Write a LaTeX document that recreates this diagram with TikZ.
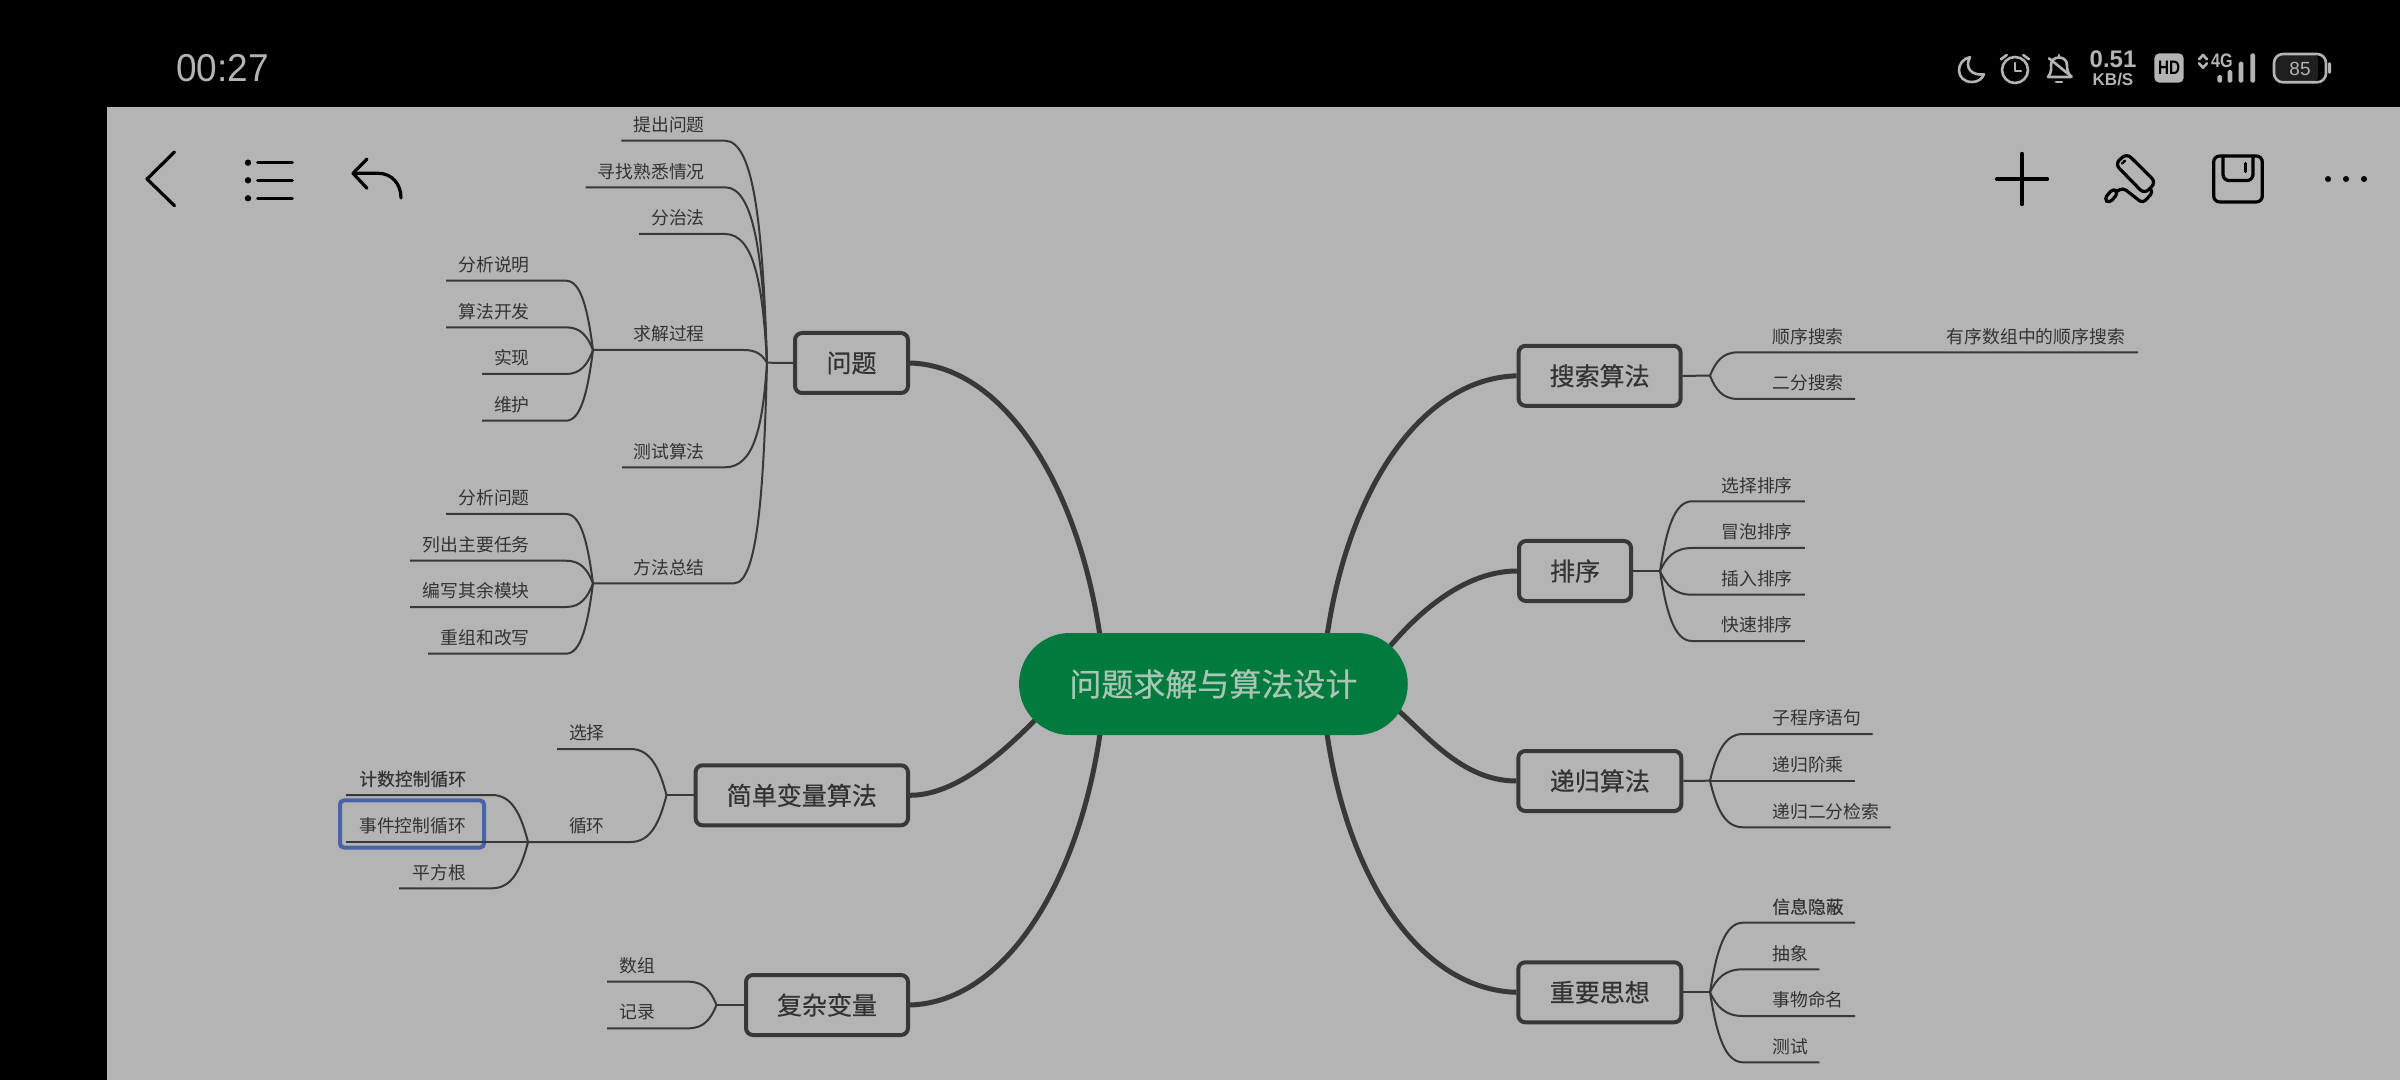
\documentclass[tikz,border=0pt]{standalone}
\usepackage{fontspec}
\usepackage{graphicx}
\setmainfont{Liberation Sans}
\newfontfamily\cjk{Noto Sans CJK SC}
\newfontfamily\cjkm[FakeBold=0.5]{Noto Sans CJK SC}
\newfontfamily\cjks[FakeBold=0.25]{Noto Sans CJK SC}
\definecolor{panel}{HTML}{B4B4B4}
\definecolor{ink}{HTML}{383838}
\definecolor{txt}{HTML}{333333}
\definecolor{rootgreen}{HTML}{007A3D}
\definecolor{roottext}{HTML}{A9C6B5}
\definecolor{selblue}{HTML}{4A62A8}
\tikzset{
  twigline/.style={draw=ink,line width=1pt},
  lab/.style={inner sep=0pt,text=txt,font=\cjk\fontsize{8.9}{10}\selectfont},
  topic/.style={draw=ink,line width=2pt,rounded corners=3.5pt,inner sep=0pt,minimum height=30pt,text=txt,font=\cjkm\fontsize{12.5}{14}\selectfont},
  mainline/.style={draw=ink,line width=2.5pt},
  rootnode/.style={fill=rootgreen,rounded corners=25.5pt,inner sep=0pt,minimum width=194.35pt,minimum height=51pt,text=roottext,font=\cjkm\fontsize{16}{18}\selectfont},
  selbox/.style={draw=selblue,line width=2pt,rounded corners=2pt,minimum width=72pt,minimum height=23.6pt,inner sep=0pt},
  tool/.style={draw=black,line width=1.6pt,line cap=round,line join=round},
  stat/.style={draw=panel,line width=1.3pt,line cap=round,line join=round},
  stattext/.style={inner sep=0pt,text=panel}
}
\newcommand{\setj}[5]{\def\jn{#1}\def\jx{#2}\def\jy{#3}\def\sd{#4}\def\ta{#5}}
\newcommand{\twig}[6][\cjk]{%
  \pgfmathsetmacro\dyy{#4-\jy}%
  \pgfmathsetmacro\kA{abs(\dyy)>100?0.1:0.2}%
  \pgfmathsetmacro\kB{abs(\dyy)>100?0.3:0.45}%
  \pgfmathsetmacro\cAx{\jx+\kA*\sd}%
  \pgfmathsetmacro\cAy{\jy+0.6*\dyy}%
  \pgfmathsetmacro\cBx{\jx+\kB*\sd}%
  \pgfmathsetmacro\pX{\jx+\sd}%
  \pgfmathsetmacro\ty{#4-16}%
  \coordinate (#2-end) at (#3,#4);
  \draw[twigline] (\jn) .. controls (\cAx,\cAy) and (\cBx,#4) .. (\pX,#4) -- (#2-end);
  \node[lab,anchor=\ta,font=#1\fontsize{8.9}{10}\selectfont] (#2) at (#5,\ty) {#6};
}
\begin{document}
\begin{tikzpicture}[x=0.5pt,y=-0.5pt]
\useasboundingbox (0,0) rectangle (2400,1080);
\fill[black] (0,0) rectangle (2400,1080);
\fill[panel] (107,107) rectangle (2400,1080);

% status bar
\node[stattext,font=\fontsize{18.5}{20}\selectfont] (clock) at (222.5,68.5) {\scalebox{1}[1.05]{00:27}};
\draw[stat] (1970,57.3) .. controls (1955,60) and (1955,82) .. (1972,82) .. controls (1978,82) and (1982,79) .. (1984,74.3) .. controls (1972,76) and (1964,68) .. (1970,57.3);
\draw[stat] (2015,70) circle [radius=6.5pt];
\draw[stat] (2015,63) -- (2015,71) -- (2021,71);
\draw[stat] (2001,59.3) -- (2006.7,55);
\draw[stat] (2023.3,55) -- (2029,59.3);
\draw[stat] (2048,77) .. controls (2052,72) and (2051,68) .. (2051,65) .. controls (2051,55) and (2067,55) .. (2067,65) .. controls (2067,68) and (2067,72) .. (2071,77) -- cycle;
\draw[stat] (2059,55) -- (2059,57);
\draw[stat] (2056,82) -- (2062,82);
\draw[stat] (2049,58.3) -- (2071.7,76.7);
\node[stattext,font=\bfseries\fontsize{12}{13}\selectfont] (speed) at (2113,59) {0.51};
\node[stattext,font=\bfseries\fontsize{8.5}{10}\selectfont] (unit) at (2113,80) {KB/S};
\node[fill=panel,rounded corners=2.5pt,inner sep=0pt,minimum width=14.7pt,minimum height=14.7pt,text=black,font=\bfseries\fontsize{9.75}{10}\selectfont] (hd) at (2169,68) {\scalebox{0.78}[1]{HD}};
\draw[stat] (2199,59.3) -- (2203,55) -- (2207,59.3);
\draw[stat] (2199,63.3) -- (2203,67.7) -- (2207,63.3);
\node[stattext,font=\bfseries\fontsize{9.75}{10}\selectfont] (net) at (2222,60.7) {\scalebox{0.83}[1]{4G}};
\fill[panel,rounded corners=0.8pt] (2217.4,75) rectangle (2222,82.7);
\fill[panel,rounded corners=0.8pt] (2227.7,70) rectangle (2232.3,82.7);
\fill[panel,rounded corners=0.8pt] (2238.7,61.7) rectangle (2243.3,82.7);
\fill[panel,rounded corners=0.8pt] (2250.4,53.3) rectangle (2255,82.7);
\fill[black!88!white,rounded corners=3pt] (2274,54) rectangle (2318,82);
\draw[stat,rounded corners=4.5pt] (2274,54) rectangle (2326,82.3);
\fill[panel,rounded corners=0.8pt] (2328,62) rectangle (2331,74);
\node[stattext,font=\fontsize{9.5}{11}\selectfont] (batt) at (2300,68.5) {85};

% toolbar
\draw[tool] (174.5,152) -- (147,179) -- (174.5,205.7);
\fill (248,162.7) circle [radius=1.6pt];
\fill (248,180.3) circle [radius=1.6pt];
\fill (248,198.3) circle [radius=1.6pt];
\draw[tool] (257.7,162.7) -- (292.3,162.7);
\draw[tool] (257.7,180.3) -- (292.3,180.3);
\draw[tool] (257.7,198.3) -- (292.3,198.3);
\draw[tool] (367,159) -- (353,173.3) -- (367,188.3);
\draw[tool] (353,173.3) -- (378,173.3) .. controls (392,173.3) and (401,184) .. (401,198);
\draw[tool] (1996.5,179) -- (2047.5,179);
\draw[tool] (2022,153.5) -- (2022,204.5);
\draw[tool,rounded corners=3pt] (2126.7,153.3) -- (2156,182.3) -- (2144.3,194) -- (2115,164) -- cycle;
\draw[tool,line width=1.2pt] (2122,163.5) -- (2125,160.7);
\draw[tool,rounded corners=2pt] (2150,188.3) -- (2153.3,191.7) -- (2142.7,203.3) -- (2130,193.3) -- (2122.7,187.7) -- (2116,192);
\draw[tool,rounded corners=2pt] (2113.3,188.3) -- (2118.3,192.7) -- (2109.3,203.3) -- (2104,199) -- cycle;
\draw[tool,rounded corners=3pt] (2213.7,156) rectangle (2262.3,202);
\draw[tool,rounded corners=3pt] (2223,156) -- (2223,180.5) -- (2253,180.5) -- (2253,156);
\draw[tool,line width=1.4pt] (2245.7,163.3) -- (2245.7,171.7);
\fill (2328,179) circle [radius=1.5pt];
\fill (2346,179) circle [radius=1.5pt];
\fill (2364,179) circle [radius=1.5pt];

% selection frame
\node[selbox] (sel) at (412,824) {};

% hidden ends of the main connectors
\coordinate (rq) at (1103,660);
\coordinate (rs) at (1050,705);
\coordinate (rc) at (1103,710);
\coordinate (rA) at (1324,660);
\coordinate (rB) at (1375,665);
\coordinate (rC) at (1380,695);
\coordinate (rD) at (1324,710);

% topics
\node[topic,minimum width=56.5pt] (wenti) at (851.5,363) {问题};
\node[topic,minimum width=106.2pt] (jiandan) at (801.8,795.3) {简单变量算法};
\node[topic,minimum width=81pt] (fuza) at (827,1005) {复杂变量};
\node[topic,minimum width=81pt] (sousuo) at (1599.6,375.8) {搜索算法};
\node[topic,minimum width=56pt] (paixu) at (1575,571) {排序};
\node[topic,minimum width=81.5pt] (digui) at (1599.8,781) {递归算法};
\node[topic,minimum width=81.5pt] (zhongyao) at (1599.8,992.3) {重要思想};

% main connectors
\draw[mainline] (wenti.east) .. controls +(100,3) and +(-17,-160) .. (rq);
\draw[mainline] (jiandan.east) .. controls +(55,0) and +(-30,30) .. (rs);
\draw[mainline] (fuza.east) .. controls +(100,-3) and +(-17,160) .. (rc);
\draw[mainline] (sousuo.west) .. controls +(-100,3) and +(17,-160) .. (rA);
\draw[mainline] (paixu.west) .. controls +(-60,0) and +(30,-40) .. (rB);
\draw[mainline] (digui.west) .. controls +(-60,0) and +(40,30) .. (rC);
\draw[mainline] (zhongyao.west) .. controls +(-100,-3) and +(17,160) .. (rD);

% root
\node[rootnode] (root) at (1213.4,684) {问题求解与算法设计};

% left: wenti
\coordinate (jA) at (767,362.7);
\draw[twigline] (wenti.west) -- (jA);
\setj{jA}{767}{362.7}{-42}{east}
\twig{tichu}{621.4}{140.7}{705}{提出问题}
\twig{xunzhao}{585.7}{187.3}{705}{寻找熟悉情况}
\twig{fenzhi}{639}{234}{705}{分治法}
\twig{ceshisf}{622}{467.3}{705}{测试算法}
\setj{jA}{767}{362.7}{-23}{east}
\twig{qiujie}{593}{350}{705}{求解过程}
\setj{jA}{767}{362.7}{-33}{east}
\twig{fangfa}{593}{583.3}{705}{方法总结}
\setj{qiujie-end}{593}{350}{-27}{east}
\twig{fenxism}{446}{280.7}{530}{分析说明}
\twig{suanfa}{446}{327.3}{530}{算法开发}
\twig{shixian}{482}{374}{530}{实现}
\twig{weihu}{482}{420.7}{530}{维护}
\setj{fangfa-end}{593}{583.3}{-27}{east}
\twig{fenxiwt}{446}{514}{530}{分析问题}
\twig{liechu}{410}{560.7}{530}{列出主要任务}
\twig{bianxie}{410}{607}{530}{编写其余模块}
\twig{chongzu}{428}{653.7}{530}{重组和改写}

% left: jiandan
\coordinate (jB) at (666.5,795.3);
\draw[twigline] (jiandan.west) -- (jB);
\setj{jB}{666.5}{795.3}{-36}{east}
\twig{xuanze}{557}{749}{605}{选择}
\twig{xunhuan}{528}{842}{605}{循环}
\setj{xunhuan-end}{528}{842}{-36}{east}
\twig[\cjks]{jishu}{346}{795}{466.5}{计数控制循环}
\twig{shijian}{346}{842}{466.5}{事件控制循环}
\twig{pingfang}{399}{888.3}{466.5}{平方根}

% left: fuza
\coordinate (jC) at (716.5,1005);
\draw[twigline] (fuza.west) -- (jC);
\setj{jC}{716.5}{1005}{-28}{east}
\twig{shuzu}{607}{981.7}{655.5}{数组}
\twig{jilu}{607}{1028.3}{655.5}{记录}

% right: sousuo
\coordinate (jD) at (1710,375.7);
\draw[twigline] (sousuo.east) -- (jD);
\setj{jD}{1710}{375.7}{28}{west}
\twig{shunxu}{2138}{352.3}{1772}{顺序搜索}
\twig{erfen}{1855}{399}{1772}{二分搜索}
\node[lab,anchor=west] (youxu) at (1946.5,336.3) {有序数组中的顺序搜索};

% right: paixu
\coordinate (jE) at (1660,571);
\draw[twigline] (paixu.east) -- (jE);
\setj{jE}{1660}{571}{32}{west}
\twig{xzpx}{1804.8}{501.3}{1721}{选择排序}
\twig{mppx}{1804.8}{548}{1721}{冒泡排序}
\twig{crpx}{1804.8}{594.7}{1721}{插入排序}
\twig{kspx}{1804.8}{641}{1721}{快速排序}

% right: digui
\coordinate (jF) at (1710,780.7);
\draw[twigline] (digui.east) -- (jF);
\setj{jF}{1710}{780.7}{33}{west}
\twig{zcx}{1872.7}{734}{1772}{子程序语句}
\twig{jiecheng}{1855}{780.7}{1772}{递归阶乘}
\twig{dgef}{1890.7}{827.3}{1772}{递归二分检索}

% right: zhongyao
\coordinate (jG) at (1710,992.3);
\draw[twigline] (zhongyao.east) -- (jG);
\setj{jG}{1710}{992.3}{33}{west}
\twig[\cjks]{xinxi}{1855}{922.7}{1772}{信息隐蔽}
\twig{chouxiang}{1819.3}{969.3}{1772}{抽象}
\twig{mingming}{1855}{1016}{1772}{事物命名}
\twig{ceshi}{1819.3}{1062.3}{1772}{测试}
\end{tikzpicture}
\end{document}
